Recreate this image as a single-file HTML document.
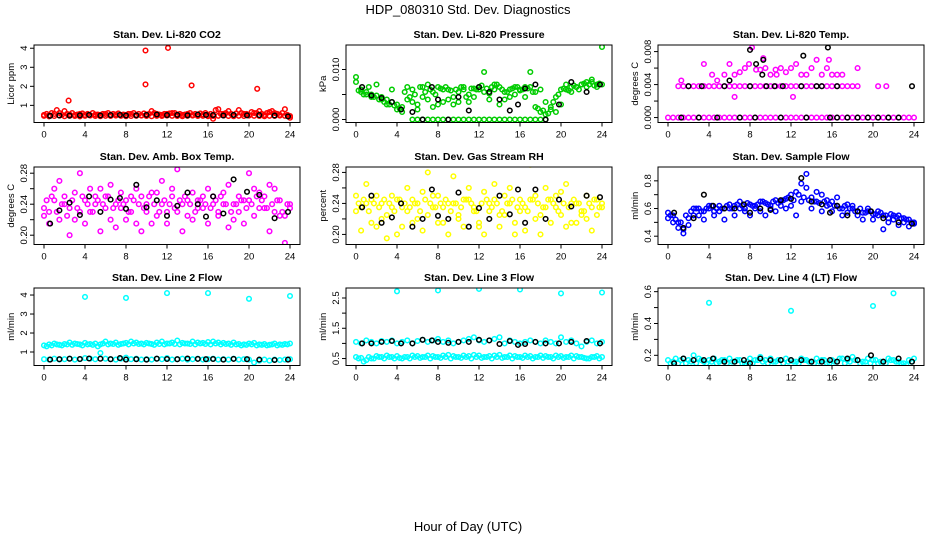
<!DOCTYPE html>
<html><head><meta charset="utf-8"><style>
html,body{margin:0;padding:0;background:#fff;}
svg{display:block;font-family:"Liberation Sans",Arial,sans-serif;}
</style></head><body>
<svg id="chart" width="936" height="540" viewBox="0 0 936 540">
<text x="468" y="14" text-anchor="middle" font-size="13">HDP_080310  Std. Dev. Diagnostics</text>
<text x="468" y="531" text-anchor="middle" font-size="13">Hour of Day (UTC)</text>
</svg>
<script>
const hours49=[0,0.5,1,1.5,2,2.5,3,3.5,4,4.5,5,5.5,6,6.5,7,7.5,8,8.5,9,9.5,10,10.5,11,11.5,12,12.5,13,13.5,14,14.5,15,15.5,16,16.5,17,17.5,18,18.5,19,19.5,20,20.5,21,21.5,22,22.5,23,23.5,24];
const hoursOff=[0.25,0.75,1.25,1.75,2.25,2.75,3.25,3.75,4.25,4.75,5.25,5.75,6.25,6.75,7.25,7.75,8.25,8.75,9.25,9.75,10.25,10.75,11.25,11.75,12.25,12.75,13.25,13.75,14.25,14.75,15.25,15.75,16.25,16.75,17.25,17.75,18.25,18.75,19.25,19.75,20.25,20.75,21.25,21.75,22.25,22.75,23.25,23.75];
const blackHours=[0.6,1.5,2.5,3.5,4.4,5.5,6.5,7.4,8,9,10,11,12,13,14,15,15.8,16.5,17.5,18.5,19.8,21,22.5,23.8];
const xTicks=[0,4,8,12,16,20,24];

// Panel 1 CO2
const co2Red=[0.5,0.48,0.55,0.6,0.7,0.52,0.5,0.55,0.5,0.48,0.52,0.5,0.55,0.5,0.52,0.5,0.5,0.55,0.5,0.48,0.52,0.7,0.55,0.5,0.55,0.6,0.52,0.5,0.55,0.5,0.5,0.52,0.5,0.3,0.8,0.55,0.7,0.5,0.75,0.55,0.5,0.6,0.7,0.5,0.65,0.6,0.5,0.8,0.35];
const co2Red2=[0.45,0.42,0.44,0.46,0.43,0.45,0.44,0.42,0.45,0.46,0.44,0.43,0.45,0.44,0.46,0.45,0.43,0.44,0.45,0.46,0.44,0.43,0.45,0.44,0.46,0.45,0.44,0.43,0.45,0.46,0.44,0.45,0.43,0.44,0.45,0.46,0.44,0.43,0.45,0.44,0.46,0.45,0.44,0.43,0.45,0.44,0.46,0.45,0.44];
const co2Red3=[0.55,0.6,0.75,0.5,0.55,0.6,0.52,0.58,0.55,0.6,0.52,0.55,0.6,0.55,0.58,0.52,0.55,0.6,0.55,0.58,0.55,0.6,0.52,0.55,0.58,0.6,0.55,0.52,0.6,0.55,0.58,0.6,0.55,0.75,0.55,0.6,0.55,0.58,0.6,0.55,0.65,0.6,0.55,0.6,0.7,0.55,0.6,0.5];
const co2OutX=[2.4,9.9,9.9,12.1,14.4,20.8];
const co2OutY=[1.25,3.88,2.1,4.02,2.05,1.87];
const co2Black=[0.45,0.47,0.46,0.48,0.5,0.47,0.49,0.5,0.47,0.48,0.5,0.52,0.49,0.5,0.48,0.52,0.5,0.49,0.47,0.5,0.48,0.49,0.47,0.42];
// Panel 2 pressure
const presG1=[0.0085,0.0055,0.0055,0.005,0.0048,0.0045,0.004,0.0035,0.003,0.0025,0.0065,0.006,0.002,0.0065,0.004,0.0055,0.0065,0.0035,0.006,0.003,0.0055,0.006,0.0035,0.0062,0.0065,0.0095,0.0052,0.006,0.0065,0.004,0.006,0.0065,0.0058,0.0045,0.0065,0.0025,0.0015,0.001,0.0025,0.0045,0.006,0.006,0.0065,0.0065,0.007,0.0065,0.0075,0.007,0.007];
const presG2=[0.0075,0.006,0.005,0.0045,0.007,0.004,0.003,0.006,0.002,0.0015,0.004,0.0035,0.003,0.0045,0.007,0.0025,0.003,0.006,0.004,0.0045,0.0035,0.0065,0.005,0.0045,0.006,0.0055,0.004,0.007,0.003,0.0055,0.0045,0.005,0.006,0.0065,0.0095,0.0055,0.006,0.0035,0.002,0.0015,0.003,0.007,0.0055,0.0065,0.007,0.0075,0.008,0.0065,0.0145];
const presG3=[0.0058,0.005,0.0065,0.0045,0.004,0.0035,0.003,0.0028,0.0022,0.0055,0.0045,0.005,0.0065,0.0055,0.006,0.005,0.0062,0.0065,0.0058,0.006,0.0065,0.0045,0.0062,0.006,0.0068,0.0062,0.0065,0.007,0.006,0.0055,0.0062,0.0065,0.006,0.0062,0.0055,0.0022,0.0018,0.0012,0.0035,0.005,0.0062,0.0058,0.0068,0.006,0.0072,0.007,0.0068,0.0072];
const presZeroX=[5.5,6,6.5,7,7.5,8,8.5,9,9.5,10,10.5,11,11.5,12,12.5,13,13.5,14,14.5,15,15.5,16,16.5,17,17.5,18,18.5];
const presZeroY=[0,0,0,0,0,0,0,0,0,0,0,0,0,0,0,0,0,0,0,0,0,0,0,0,0,0,0];
const presBlack=[0.0065,0.0048,0.0043,0.0035,0.002,0.0015,0,0.0065,0.004,0,0.0045,0.0018,0.0065,0.0055,0.004,0.0018,0.003,0.0062,0.007,0,0.003,0.0075,0.0055,0.007];
// Panel 3 temp
const tempZero=[0,0,0,0,0,0,0,0,0,0,0,0,0,0,0,0,0,0,0,0,0,0,0,0,0,0,0,0,0,0,0,0,0,0,0,0,0,0,0,0,0,0,0,0,0,0,0,0,0];
const tempMidX=[1,1.5,2,2.5,3,3.5,4,4.5,5,5.5,6,6.5,7,7.5,8,8.5,9,9.5,10,10.5,11,11.5,12,12.5,13,13.5,14,14.5,15,15.5,16,16.5,17,17.5,18,18.5,20.5,21.3];
const tempMidY=[0.0038,0.0038,0.0038,0.0038,0.0038,0.0038,0.0038,0.0038,0.0038,0.0038,0.0038,0.0038,0.0038,0.0038,0.0038,0.0038,0.0038,0.0038,0.0038,0.0038,0.0038,0.0038,0.0038,0.0038,0.0038,0.0038,0.0038,0.0038,0.0038,0.0038,0.0038,0.0038,0.0038,0.0038,0.0038,0.0038,0.0038,0.0038];
const tempHiX=[4.8,5.5,6,6.5,7,7.5,7.9,8.2,8.6,9,9.5,10,10.5,11,11.5,12,12.5,13,13.5,14,14.5,15,15.5,16,16.5,17,18.5,9.3,12.2,6.5,15.7,3.5,1.3,10.6,4.3];
const tempHiY=[0.0045,0.0052,0.0065,0.0052,0.0055,0.006,0.0065,0.0085,0.0058,0.0058,0.006,0.0052,0.0058,0.006,0.0055,0.006,0.0065,0.0052,0.0052,0.006,0.007,0.0052,0.006,0.0052,0.0052,0.0052,0.006,0.0072,0.0025,0.0025,0.007,0.0065,0.0045,0.0052,0.0052];
const tempBlackX=[2,3.3,5.5,8,9.6,10.4,11.2,13,14.5,15,16.5,1.3,3,4.8,7,8.5,11,13.5,15.8,16.5,17.5,18.5,19.5,20.5,21.5,22.5,23.8,8,8.6,9.3,13.2,15.6,6,9.2];
const tempBlackY=[0.0038,0.0038,0.0038,0.0038,0.0038,0.0038,0.0038,0.0038,0.0038,0.0038,0.0038,0,0,0,0,0,0,0,0,0,0,0,0,0,0,0,0.0038,0.0082,0.0065,0.007,0.0075,0.0085,0.0045,0.0052];
// Panel 4 amb box temp
const ambM1=[0.225,0.23,0.26,0.27,0.25,0.235,0.22,0.28,0.245,0.23,0.25,0.26,0.235,0.22,0.24,0.255,0.245,0.23,0.26,0.25,0.24,0.215,0.255,0.27,0.23,0.25,0.285,0.24,0.225,0.255,0.245,0.235,0.26,0.25,0.23,0.24,0.265,0.22,0.25,0.245,0.28,0.26,0.235,0.25,0.265,0.23,0.245,0.225,0.235];
const ambM2=[0.235,0.215,0.245,0.22,0.24,0.2,0.255,0.23,0.215,0.26,0.24,0.205,0.25,0.265,0.21,0.235,0.22,0.25,0.215,0.205,0.23,0.255,0.225,0.24,0.215,0.26,0.23,0.205,0.245,0.22,0.235,0.25,0.215,0.24,0.225,0.255,0.21,0.24,0.23,0.215,0.245,0.225,0.255,0.235,0.205,0.26,0.225,0.19,0.24];
const ambM3=[0.245,0.25,0.23,0.24,0.225,0.245,0.235,0.25,0.24,0.23,0.245,0.24,0.25,0.235,0.245,0.24,0.23,0.245,0.24,0.235,0.25,0.24,0.23,0.245,0.24,0.235,0.245,0.25,0.24,0.23,0.245,0.24,0.235,0.245,0.25,0.24,0.23,0.24,0.245,0.235,0.24,0.25,0.245,0.235,0.24,0.245,0.23,0.24];
const ambBlack=[0.215,0.232,0.242,0.226,0.25,0.23,0.246,0.248,0.234,0.265,0.236,0.245,0.225,0.238,0.255,0.24,0.224,0.25,0.228,0.272,0.256,0.252,0.222,0.23];
// Panel 5 RH
const rhY1=[0.25,0.235,0.265,0.245,0.21,0.24,0.225,0.25,0.2,0.235,0.26,0.245,0.22,0.255,0.28,0.235,0.25,0.215,0.24,0.275,0.225,0.245,0.26,0.235,0.21,0.255,0.24,0.265,0.225,0.25,0.26,0.2,0.245,0.235,0.29,0.25,0.225,0.26,0.245,0.235,0.255,0.265,0.215,0.24,0.225,0.25,0.235,0.245,0.24];
const rhY2=[0.23,0.205,0.24,0.215,0.25,0.22,0.195,0.235,0.245,0.21,0.23,0.215,0.24,0.205,0.225,0.25,0.215,0.235,0.2,0.24,0.22,0.21,0.245,0.23,0.215,0.2,0.23,0.245,0.21,0.225,0.24,0.215,0.23,0.205,0.245,0.22,0.2,0.235,0.215,0.25,0.225,0.21,0.24,0.215,0.23,0.22,0.205,0.225,0.235];
const rhY3=[0.24,0.245,0.23,0.24,0.235,0.245,0.24,0.23,0.245,0.24,0.235,0.24,0.23,0.245,0.24,0.235,0.24,0.245,0.23,0.24,0.235,0.245,0.24,0.23,0.24,0.245,0.235,0.24,0.23,0.24,0.245,0.235,0.24,0.23,0.245,0.24,0.235,0.245,0.24,0.23,0.24,0.235,0.245,0.24,0.23,0.24,0.245,0.235];
const rhBlack=[0.235,0.25,0.215,0.222,0.24,0.21,0.22,0.258,0.224,0.22,0.254,0.21,0.234,0.22,0.25,0.226,0.258,0.215,0.258,0.22,0.245,0.236,0.25,0.248];
// Panel 6 sample flow
const sfB1=[0.57,0.55,0.5,0.45,0.48,0.55,0.6,0.58,0.6,0.58,0.62,0.6,0.63,0.62,0.65,0.6,0.63,0.62,0.65,0.64,0.62,0.66,0.65,0.67,0.7,0.72,0.78,0.75,0.68,0.65,0.7,0.66,0.65,0.62,0.6,0.63,0.6,0.58,0.57,0.58,0.56,0.55,0.55,0.53,0.52,0.55,0.5,0.52,0.49];
const sfB2=[0.53,0.5,0.46,0.42,0.53,0.6,0.55,0.52,0.62,0.55,0.58,0.52,0.6,0.55,0.6,0.58,0.55,0.6,0.58,0.55,0.6,0.58,0.62,0.6,0.62,0.55,0.65,0.85,0.6,0.72,0.58,0.62,0.58,0.68,0.55,0.57,0.62,0.55,0.52,0.6,0.52,0.58,0.45,0.5,0.55,0.48,0.53,0.47,0.5];
const sfB3=[0.55,0.52,0.5,0.55,0.58,0.6,0.58,0.6,0.62,0.6,0.6,0.62,0.6,0.63,0.62,0.64,0.62,0.63,0.65,0.63,0.65,0.64,0.66,0.68,0.66,0.7,0.68,0.66,0.65,0.64,0.65,0.63,0.62,0.6,0.62,0.6,0.58,0.6,0.57,0.58,0.56,0.57,0.55,0.56,0.54,0.53,0.52,0.5];
const sfBlack=[0.57,0.46,0.53,0.7,0.62,0.6,0.6,0.63,0.57,0.6,0.59,0.66,0.67,0.82,0.65,0.63,0.57,0.62,0.55,0.58,0.58,0.53,0.5,0.49];
// Panel 7 line 2
const l2High=[1.35,1.4,1.45,1.38,1.42,1.5,1.45,1.4,1.48,1.42,1.45,1.4,1.55,1.45,1.5,1.42,1.48,1.55,1.5,1.45,1.48,1.42,1.5,1.55,1.45,1.5,1.6,1.48,1.45,1.55,1.5,1.48,1.52,1.55,1.5,1.48,1.45,1.5,1.42,1.4,1.45,1.48,1.4,1.42,1.38,1.45,1.4,1.42,1.45];
const l2High2=[1.3,1.35,1.4,1.35,1.4,1.38,1.42,1.35,1.4,1.38,1.3,1.45,1.4,1.42,1.38,1.45,1.4,1.45,1.42,1.4,1.45,1.38,1.42,1.4,1.45,1.42,1.4,1.45,1.42,1.4,1.45,1.42,1.4,1.45,1.4,1.42,1.38,1.4,1.35,1.38,1.4,1.35,1.38,1.35,1.4,1.35,1.38,1.4];
const l2Low=[0.62,0.6,0.65,0.6,0.62,0.65,0.6,0.62,0.68,0.65,0.62,0.95,0.65,0.62,0.6,0.65,0.7,0.62,0.65,0.6,0.62,0.6,0.65,0.62,0.68,0.6,0.62,0.65,0.6,0.62,0.65,0.6,0.62,0.65,0.6,0.62,0.6,0.65,0.6,0.62,0.6,0.45,0.55,0.6,0.55,0.6,0.58,0.6,0.62];
const l2OutX=[4,8,12,16,20,24];
const l2OutY=[3.9,3.85,4.1,4.1,3.8,3.95];
const l2Black=[0.6,0.62,0.65,0.63,0.66,0.65,0.62,0.68,0.6,0.62,0.6,0.65,0.63,0.62,0.66,0.64,0.62,0.63,0.6,0.64,0.62,0.6,0.58,0.6];
// Panel 8 line 3
const l3Mid=[1.05,1.0,1.1,1.05,1.0,1.08,1.05,1.1,1.0,1.05,1.1,1.0,1.08,1.12,1.05,1.1,1.15,1.05,1.1,1.0,1.05,1.1,1.15,1.2,1.1,1.05,1.1,1.15,1.2,1.0,1.1,1.05,1.0,1.05,1.1,1.05,1.0,1.1,1.05,1.0,1.2,1.05,1.1,1.0,0.9,1.05,1.1,1.0,1.05];
const l3Low=[0.55,0.52,0.45,0.5,0.58,0.55,0.6,0.55,0.58,0.5,0.55,0.6,0.58,0.55,0.6,0.58,0.55,0.6,0.62,0.58,0.55,0.6,0.58,0.62,0.6,0.55,0.58,0.6,0.62,0.55,0.6,0.58,0.55,0.6,0.58,0.55,0.6,0.58,0.55,0.6,0.58,0.55,0.6,0.58,0.55,0.5,0.55,0.58,0.55];
const l3Low2=[0.5,0.4,0.55,0.5,0.55,0.5,0.55,0.5,0.52,0.55,0.5,0.55,0.52,0.55,0.5,0.55,0.52,0.55,0.5,0.55,0.52,0.55,0.5,0.55,0.52,0.55,0.5,0.55,0.52,0.55,0.5,0.55,0.52,0.55,0.5,0.55,0.52,0.55,0.5,0.55,0.52,0.55,0.5,0.55,0.52,0.5,0.55,0.5];
const l3OutX=[4,8,12,16,20,24];
const l3OutY=[2.72,2.75,2.8,2.78,2.65,2.68];
const l3Black=[1.0,1.0,1.05,1.08,1.0,1.0,1.12,1.1,1.05,1.02,1.05,1.05,1.12,1.1,0.98,1.08,0.95,0.98,1.05,1.0,1.0,1.05,1.08,1.0];
// Panel 9 line 4
const l4A=[0.17,0.16,0.15,0.18,0.17,0.2,0.18,0.16,0.17,0.18,0.16,0.17,0.18,0.16,0.17,0.15,0.18,0.17,0.19,0.17,0.18,0.16,0.17,0.18,0.17,0.16,0.18,0.17,0.16,0.18,0.17,0.15,0.17,0.16,0.18,0.17,0.19,0.17,0.16,0.18,0.17,0.15,0.16,0.18,0.17,0.16,0.15,0.17,0.18];
const l4B=[0.15,0.18,0.17,0.15,0.16,0.15,0.17,0.15,0.16,0.15,0.17,0.15,0.16,0.17,0.15,0.16,0.15,0.17,0.16,0.15,0.16,0.17,0.15,0.16,0.16,0.15,0.17,0.16,0.15,0.16,0.17,0.15,0.16,0.18,0.15,0.16,0.17,0.15,0.16,0.15,0.17,0.16,0.15,0.17,0.16,0.15,0.14,0.16,0.15];
const l4OutX=[4,12,20,22];
const l4OutY=[0.53,0.48,0.51,0.59];
const l4Black=[0.15,0.18,0.17,0.17,0.18,0.16,0.16,0.17,0.15,0.18,0.17,0.17,0.17,0.17,0.16,0.16,0.17,0.16,0.18,0.17,0.2,0.16,0.18,0.16];

const NS='http://www.w3.org/2000/svg';
const svg=document.getElementById('chart');
function mk(tag,attrs,parent){const e=document.createElementNS(NS,tag);for(const k in attrs)e.setAttribute(k,attrs[k]);(parent||svg).appendChild(e);return e;}

const panels=[
 {title:'Stan. Dev. Li-820 CO2',ylab:'Licor ppm',col:0,row:0,ymin:0.1,ymax:4.17,ticks:[1,2,3,4],labels:['1','2','3','4'],
  series:[{c:'#ff0000',x:hours49,y:co2Red2},{c:'#ff0000',x:hoursOff,y:co2Red3},{c:'#ff0000',x:hours49,y:co2Red},{c:'#ff0000',x:co2OutX,y:co2OutY},{c:'#000',x:blackHours,y:co2Black}]},
 {title:'Stan. Dev. Li-820 Pressure',ylab:'kPa',col:1,row:0,ymin:-0.0006,ymax:0.0149,ticks:[0,0.005,0.01],labels:['0.000','','0.010'],
  series:[{c:'#00cc00',x:hours49,y:presG2},{c:'#00cc00',x:hoursOff,y:presG3},{c:'#00cc00',x:hours49,y:presG1},{c:'#00cc00',x:presZeroX,y:presZeroY},{c:'#000',x:blackHours,y:presBlack}]},
 {title:'Stan. Dev. Li-820 Temp.',ylab:'degrees C',col:2,row:0,ymin:-0.0006,ymax:0.0088,ticks:[0,0.002,0.004,0.006,0.008],labels:['0.000','','0.004','','0.008'],
  series:[{c:'#ff00ff',x:hours49,y:tempZero},{c:'#ff00ff',x:tempMidX,y:tempMidY},{c:'#ff00ff',x:tempHiX,y:tempHiY},{c:'#000',x:tempBlackX,y:tempBlackY}]},
 {title:'Stan. Dev. Amb. Box Temp.',ylab:'degrees C',col:0,row:1,ymin:0.188,ymax:0.288,ticks:[0.2,0.22,0.24,0.26,0.28],labels:['0.20','','0.24','','0.28'],
  series:[{c:'#ff00ff',x:hours49,y:ambM1},{c:'#ff00ff',x:hours49,y:ambM2},{c:'#ff00ff',x:hoursOff,y:ambM3},{c:'#000',x:blackHours,y:ambBlack}]},
 {title:'Stan. Dev. Gas Stream RH',ylab:'percent',col:1,row:1,ymin:0.187,ymax:0.287,ticks:[0.2,0.22,0.24,0.26,0.28],labels:['0.20','','0.24','','0.28'],
  series:[{c:'#ffff00',x:hours49,y:rhY1},{c:'#ffff00',x:hours49,y:rhY2},{c:'#ffff00',x:hoursOff,y:rhY3},{c:'#000',x:blackHours,y:rhBlack}]},
 {title:'Stan. Dev. Sample Flow',ylab:'ml/min',col:2,row:1,ymin:0.34,ymax:0.9,ticks:[0.4,0.5,0.6,0.7,0.8],labels:['0.4','','0.6','','0.8'],
  series:[{c:'#0000ff',x:hours49,y:sfB2},{c:'#0000ff',x:hoursOff,y:sfB3},{c:'#0000ff',x:hours49,y:sfB1},{c:'#000',x:blackHours,y:sfBlack}]},
 {title:'Stan. Dev. Line 2 Flow',ylab:'ml/min',col:0,row:2,ymin:0.29,ymax:4.37,ticks:[1,2,3,4],labels:['1','2','3','4'],
  series:[{c:'#00ffff',x:hours49,y:l2High},{c:'#00ffff',x:hoursOff,y:l2High2},{c:'#00ffff',x:hours49,y:l2Low},{c:'#00ffff',x:l2OutX,y:l2OutY},{c:'#000',x:blackHours,y:l2Black}]},
 {title:'Stan. Dev. Line 3 Flow',ylab:'ml/min',col:1,row:2,ymin:0.27,ymax:2.83,ticks:[0.5,1,1.5,2,2.5],labels:['0.5','','1.5','','2.5'],
  series:[{c:'#00ffff',x:hours49,y:l3Low},{c:'#00ffff',x:hoursOff,y:l3Low2},{c:'#00ffff',x:hours49,y:l3Mid},{c:'#00ffff',x:l3OutX,y:l3OutY},{c:'#000',x:blackHours,y:l3Black}]},
 {title:'Stan. Dev. Line 4 (LT) Flow',ylab:'ml/min',col:2,row:2,ymin:0.136,ymax:0.623,ticks:[0.2,0.3,0.4,0.5,0.6],labels:['0.2','','0.4','','0.6'],
  series:[{c:'#00ffff',x:hours49,y:l4A},{c:'#00ffff',x:hoursOff,y:l4B},{c:'#00ffff',x:l4OutX,y:l4OutY},{c:'#000',x:blackHours,y:l4Black}]}
];
const rowTops=[45,167,288];
panels.forEach((p,pi)=>{
  const ox=p.col*312, top=rowTops[p.row], bot=top+77.5, left=ox+34, right=ox+300;
  const g=mk('g',{});
  
  
  const xs=t=>ox+44+t*(246/24);
  const ys=v=>bot-(v-p.ymin)/(p.ymax-p.ymin)*(bot-top);
  const t=mk('text',{x:(left+right)/2,y:top-7,'text-anchor':'middle','font-size':'10.5','font-weight':'bold'},g);
  t.textContent=p.title;
  
  
  const yl=mk('text',{x:0,y:0,'text-anchor':'middle','font-size':'9.5',transform:`translate(${ox+14},${(top+bot)/2}) rotate(-90)`},g);
  yl.textContent=p.ylab;
  
  
  const cid='clip'+pi;
  const cp=mk('clipPath',{id:cid},g);mk('rect',{x:left,y:top,width:right-left,height:bot-top},cp);
  const pts=mk('g',{'clip-path':`url(#${cid})`},g);
  p.series.forEach((s)=>{
    s.y.forEach((v,i)=>{
      const c=mk('circle',{cx:xs(s.x[i]).toFixed(1),cy:ys(v).toFixed(1),r:2.3,fill:'none',stroke:s.c,'stroke-width':1.5},pts);
      
      
    });
  });
  const box=mk('rect',{x:left,y:top,width:right-left,height:bot-top,fill:'none',stroke:'#000','stroke-width':1},g);
  
  
  xTicks.forEach(v=>{
    const x=xs(v);
    mk('line',{x1:x,y1:bot,x2:x,y2:bot+4,stroke:'#000'},g);
    const tl=mk('text',{x:x,y:bot+15,'text-anchor':'middle','font-size':'9.5'},g);
    tl.textContent=v;
    
    
  });
  p.ticks.forEach((v,i)=>{
    const y=ys(v);
    mk('line',{x1:left-4,y1:y,x2:left,y2:y,stroke:'#000'},g);
    if(p.labels[i]){
      const tl=mk('text',{x:0,y:0,'text-anchor':'middle','font-size':'9.5',transform:`translate(${left-7},${y}) rotate(-90)`},g);
      tl.textContent=p.labels[i];
      
      
    }
  });
});
</script>
</body></html>
